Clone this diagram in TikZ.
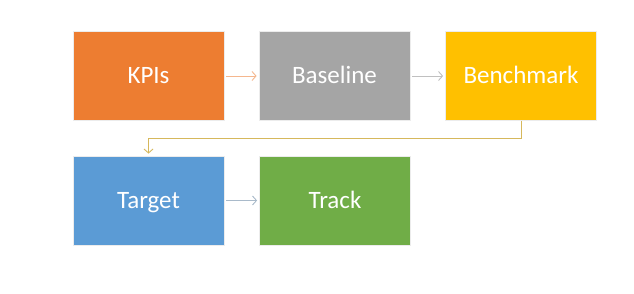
\documentclass[tikz,border=0pt]{standalone}
\usepackage{fontspec}
\setmainfont{Carlito}
\usetikzlibrary{arrows.meta}
\definecolor{kpi}{HTML}{ED7D31}
\definecolor{base}{HTML}{A5A5A5}
\definecolor{bench}{HTML}{FFC000}
\definecolor{targ}{HTML}{5B9BD5}
\definecolor{trk}{HTML}{70AD47}
\tikzset{
  box/.style={draw=white!85!gray, line width=0.8pt, minimum width=151pt, minimum height=89pt, inner sep=0pt, text=white, text height=16pt, text depth=0pt, font=\fontsize{25}{28}\selectfont},
  conn/.style={line width=0.9pt, shorten <=2pt, shorten >=2pt, -{Straight Barb[length=4pt,width=9pt]}}
}
\begin{document}
\begin{tikzpicture}[x=1pt,y=-1pt]
\useasboundingbox[fill=white] (0,0) rectangle (634,294);
\node[box, fill=kpi] (kpi) at (148.5,76) {KPIs};
\node[box, fill=base] (base) at (334.5,76) {Baseline};
\node[box, fill=bench] (bench) at (521,76) {Benchmark};
\node[box, fill=targ] (targ) at (148.5,200.5) {Target};
\node[box, fill=trk] (trk) at (335,200.5) {Track};
\draw[conn, draw=kpi!55!white] (kpi) -- (base);
\draw[conn, draw=base!70!white] (base) -- (bench);
\draw[conn, draw=bench!60!gray!80!white, shorten <=0pt] (bench.south) -- ++(0,18) -| (targ.north);
\draw[conn, draw=targ!45!gray!60!white] (targ) -- (trk);
\end{tikzpicture}
\end{document}
